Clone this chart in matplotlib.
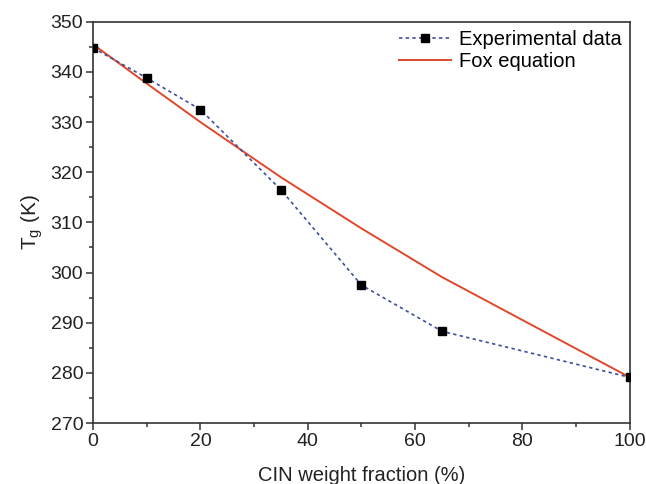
import matplotlib
matplotlib.use("Agg")
import matplotlib.pyplot as plt
from matplotlib.ticker import MultipleLocator

plt.rcParams['font.family'] = ['Liberation Sans', 'DejaVu Sans']

# data
cin_exp = [0, 10, 20, 35, 50, 65, 100]
tg_exp = [344.8, 338.8, 332.5, 316.5, 297.5, 288.3, 279.1]

cin_fox = [0, 10, 20, 35, 50, 65, 100]
tg_fox = [345.5, 337.7, 330.0, 319.0, 308.8, 299.1, 279.1]

fig = plt.figure(figsize=(6.46, 4.84), dpi=100)
ax = fig.add_axes([0.144, 0.126, 0.831, 0.829])

ax.plot(cin_exp, tg_exp, linestyle=(0, (2, 2)), color='#3b4f9c', lw=1.2,
        marker='s', ms=6, mfc='black', mec='black', label='Experimental data', zorder=3)
ax.plot(cin_fox, tg_fox, color='#e0472b', lw=1.4, label='Fox equation', zorder=2)

ax.set_xlim(0, 100)
ax.set_ylim(270, 350)
ax.xaxis.set_major_locator(MultipleLocator(20))
ax.xaxis.set_minor_locator(MultipleLocator(10))
ax.yaxis.set_major_locator(MultipleLocator(10))
ax.yaxis.set_minor_locator(MultipleLocator(5))

for s in ax.spines.values():
    s.set_color('#333333')
    s.set_linewidth(1.2)
ax.tick_params(which='both', direction='out', colors='#333333', labelsize=14, width=1.1,
               labelcolor='#222222', pad=2)
ax.tick_params(which='major', length=5)
ax.tick_params(which='minor', length=3)

ax.set_xlabel('CIN weight fraction (%)', fontsize=14.5, color='#222222', labelpad=12)
ax.set_ylabel('T$_\\mathregular{g}$ (K)', fontsize=15, color='#222222', labelpad=4)

ax.legend(loc='upper right', frameon=False, fontsize=14.5, handlelength=2.6,
          borderaxespad=0.0, handletextpad=0.4, labelspacing=0.15)

fig.savefig('out.png', dpi=100)
